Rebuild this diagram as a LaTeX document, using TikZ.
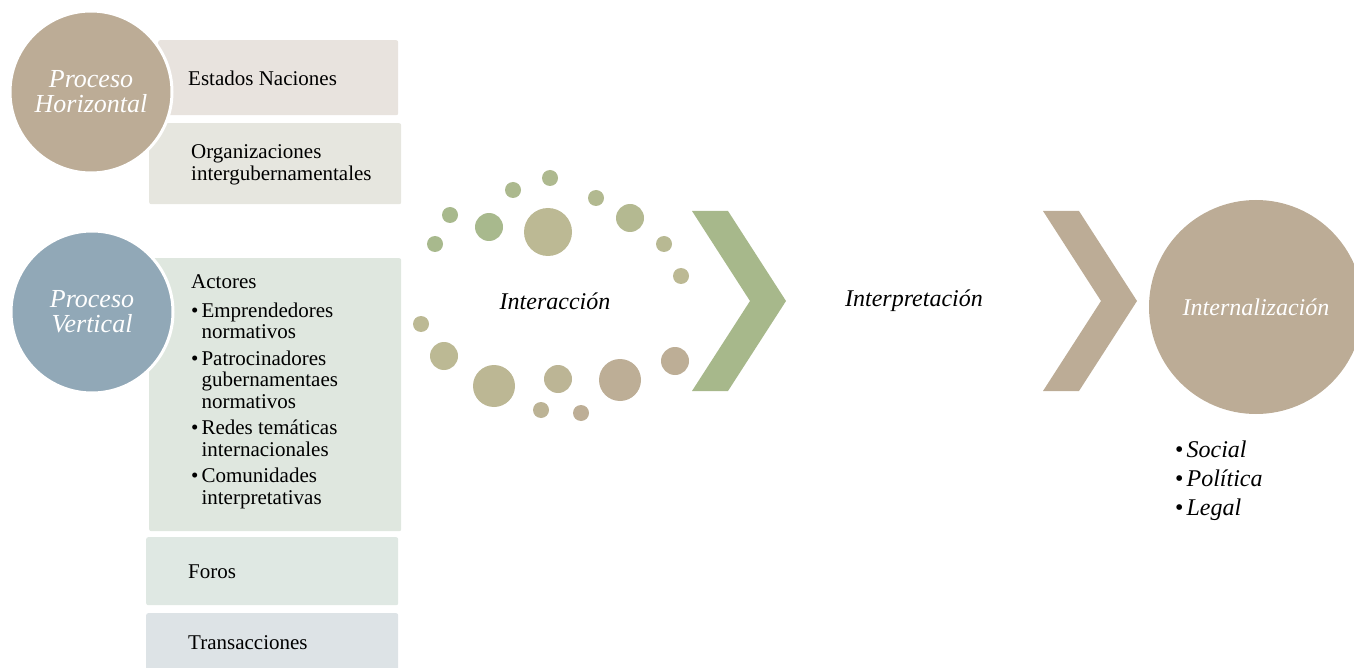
\documentclass[tikz,border=0pt]{standalone}
\usepackage{fontspec}
\setmainfont{LiberationSerif}[Extension=.ttf, UprightFont=*-Regular, ItalicFont=*-Italic, BoldFont=*-Bold]

\definecolor{tancol}{HTML}{BCAC96}
\definecolor{bluecol}{HTML}{91A8B7}
\definecolor{greencol}{HTML}{A7B88B}
\definecolor{dotgreen}{HTML}{A8B98D}
\definecolor{dotolive}{HTML}{BCB994}
\definecolor{dottan}{HTML}{BDAE96}
\definecolor{boxa}{HTML}{E8E3DE}
\definecolor{boxb}{HTML}{E6E6DF}
\definecolor{boxc}{HTML}{DFE7DF}
\definecolor{boxd}{HTML}{DFE8E3}
\definecolor{boxe}{HTML}{DDE3E6}

\tikzset{
  box/.style={rectangle, rounded corners=2pt, inner sep=0pt, anchor=north west},
  txt/.style={inner sep=0pt, font=\fontsize{21}{21.5}\selectfont, align=left},
  proc/.style={circle, inner sep=0pt, draw=white, line width=3pt, text=white,
    align=center, font=\fontsize{26}{25}\selectfont\itshape},
  dot/.style={circle, inner sep=0pt},
  stage/.style={inner sep=0pt, font=\fontsize{24}{28}\selectfont\itshape}
}

\begin{document}
\begin{tikzpicture}[x=1pt, y=-1pt]

   \clip (0,0) rectangle (1354,668);

   \foreach \n/\x/\y/\w/\h/\c in {estados/158/40/240/75/boxa, organiz/149/123/252/81/boxb,
       actores/149/258/252/273/boxc, foros/146/537/252/68/boxd, trans/146/613/252/60/boxe}
     \node [box, fill=\c, minimum width=\w, minimum height=\h]
        (\n) at (\x,\y) {};

   \node [txt, anchor=west] (testados) at (188,78) {Estados Naciones};
   \node [txt, anchor=west] (torganiz) at (191,165) {Organizaciones\\intergubernamentales};
   \node [txt, anchor=west] (tactores) at (191,392) {%
     \begin{tabular}{@{}l@{\hspace{3pt}}l@{}}
       \multicolumn{2}{@{}l@{}}{Actores}\\[7pt]
       \textbullet & Emprendedores\\ & normativos\\[5pt]
       \textbullet & Patrocinadores\\ & gubernamentaes\\ & normativos\\[5pt]
       \textbullet & Redes temáticas\\ & internacionales\\[5pt]
       \textbullet & Comunidades\\ & interpretativas
     \end{tabular}};
   \node [txt, anchor=west] (tforos) at (188,572) {Foros};
   \node [txt, anchor=west] (ttrans) at (188,643) {Transacciones};

   \node [proc, fill=tancol, minimum size=162] (horiz) at (91,92) {Proceso\\Horizontal};
   \node [proc, fill=bluecol, minimum size=162] (vert) at (92,312) {Proceso\\Vertical};

   \foreach [count=\i] \x/\y/\r/\c in {450/215/8/dotgreen, 435/244/8/dotgreen,
       489/227/14/dotgreen, 513/190/8/dotgreen!80!dotolive, 550/178/8/dotgreen!70!dotolive,
       548/232/24/dotolive, 596/198/8/dotgreen!50!dotolive, 630/218/14/dotgreen!40!dotolive,
       664/244/8/dotgreen!20!dotolive, 681/276/8/dotolive, 421/324/8/dotolive,
       444/356/14/dotolive, 494/386/21/dotolive!80!dottan, 541/410/8/dotolive!50!dottan,
       558/379/14/dotolive!60!dottan, 581/413/8/dottan, 620/380/21/dottan, 675/361/14/dottan}
     \node [dot, minimum size=2*\r, fill=\c] (d\i) at (\x,\y) {};

   \foreach \x/\c in {692/greencol, 1043/tancol}
     \fill [\c] (\x,211) -- ++(36,0) -- ++(58,90) -- ++(-58,90) -- ++(-36,0) -- ++(58,-90) -- cycle;

   \node [stage] (interac) at (555,301) {Interacción};
   \node [stage] (interp) at (914,301) {Interpretación};
   \node [proc, draw=none, fill=tancol, minimum size=214, font=\fontsize{24}{28}\selectfont\itshape]
      (internal) at (1256,307) {Internalización};

   \node [stage, anchor=west, font=\fontsize{24}{29}\selectfont] (niveles) at (1175,481) {%
     \begin{tabular}{@{}l@{\hspace{3pt}}l@{}}
       \textbullet & \textit{Social}\\
       \textbullet & \textit{Política}\\
       \textbullet & \textit{Legal}
     \end{tabular}};

\end{tikzpicture}
\end{document}
